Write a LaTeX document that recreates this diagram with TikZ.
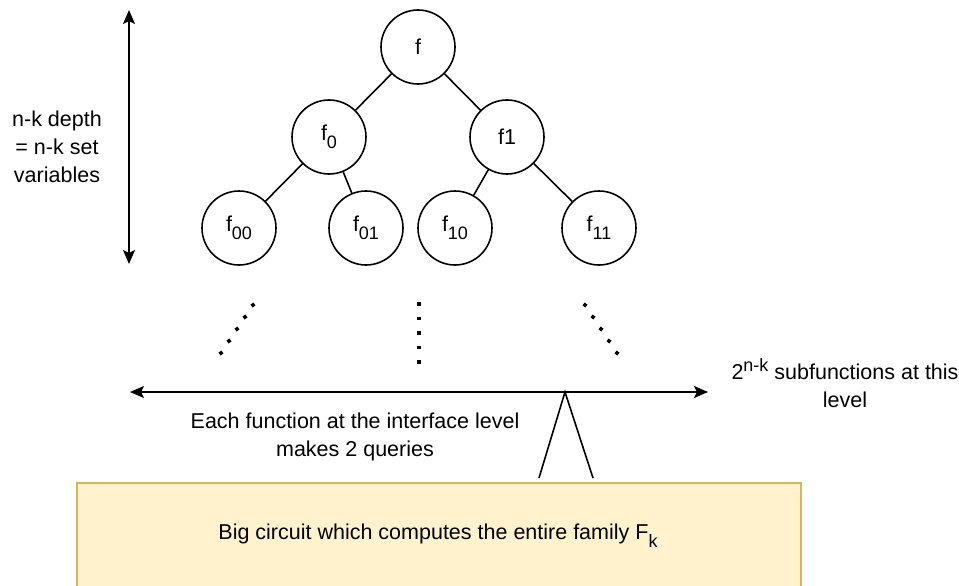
\documentclass[tikz,border=0pt]{standalone}
\usepackage{fontspec}
\setmainfont{Liberation Sans}
\usetikzlibrary{arrows.meta,calc}
\definecolor{boxfill}{HTML}{FFF2CC}
\definecolor{boxline}{HTML}{D6B656}
% lowered / raised indices in a slightly smaller size
\newcommand{\lowidx}[1]{\raisebox{-8pt}{\fontsize{18}{18}\selectfont #1}}
\newcommand{\highidx}[1]{\raisebox{8.5pt}{\fontsize{18}{18}\selectfont #1}}
\begin{document}
\begin{tikzpicture}[x=1pt,y=-1pt,
  every node/.style={font=\fontsize{21.5}{28}\selectfont},
  fn/.style={circle,draw,line width=1.6pt,minimum size=74pt,inner sep=0pt},
  edge/.style={line width=1.6pt},
  dbl/.style={line width=1.6pt,{Stealth[length=14pt,width=12pt,inset=3pt]}-{Stealth[length=14pt,width=12pt,inset=3pt]}},
  dotmark/.style={rectangle,fill,minimum size=3.6pt,inner sep=0pt},
  lbl/.style={align=center,inner sep=0pt}]
\useasboundingbox (0,0) rectangle (959,586);

% tree of subfunctions
\node[fn] (f)   at (418,47)  {f};
\node[fn] (f0)  at (329,137) {f\lowidx{0}};
\node[fn] (f1)  at (507,137) {f1};
\node[fn] (f00) at (239,228) {f\lowidx{00}};
\node[fn] (f01) at (366,228) {f\lowidx{01}};
\node[fn] (f10) at (455,228) {f\lowidx{10}};
\node[fn] (f11) at (599,228) {f\lowidx{11}};
\draw[edge] (f) -- (f0);
\draw[edge] (f) -- (f1);
\draw[edge] (f0) -- (f00);
\draw[edge] (f0) -- (f01);
\draw[edge] (f1) -- (f10);
\draw[edge] (f1) -- (f11);

% depth arrow and its label
\coordinate (dtop) at (129,10);
\coordinate (dbot) at (129,264);
\draw[dbl] (dbot) -- (dtop);
\node[lbl] (depth) at (57,147) {n-k depth\\= n-k set\\variables};

% continuation dots
\coordinate (la) at (221,353); \coordinate (lb) at (253,305);
\coordinate (ma) at (419,304); \coordinate (mb) at (419,362);
\coordinate (ra) at (585,305); \coordinate (rb) at (617,353);
\foreach \i in {0,...,4}{
  \node[dotmark,rotate=-56] at ($(la)!\i/4!(lb)$) {};
  \node[dotmark] at ($(ma)!\i/4!(mb)$) {};
  \node[dotmark,rotate=56] at ($(ra)!\i/4!(rb)$) {};
}

% interface level
\coordinate (il) at (130,392);
\coordinate (ir) at (708,392);
\draw[dbl] (il) -- (ir);
\node[lbl] (count) at (845,383) {2\highidx{n-k} subfunctions at this\\level};
\node[lbl] (queries) at (355,437) {Each function at the interface level\\makes 2 queries};

% big circuit
\node[draw=boxline,fill=boxfill,line width=1.6pt,minimum width=724pt,minimum height=110pt,anchor=north west,inner sep=0pt] (circ) at (76,482) {};
\node[inner sep=0pt] (circtext) at (438,536) {Big circuit which computes the entire family F\lowidx{k}};

% two queries from the interface to the circuit
\coordinate (q) at (565,392);
\coordinate (q1) at (539,478);
\coordinate (q2) at (593,478);
\draw[edge] (q1) -- (q) -- (q2);
\end{tikzpicture}
\end{document}
